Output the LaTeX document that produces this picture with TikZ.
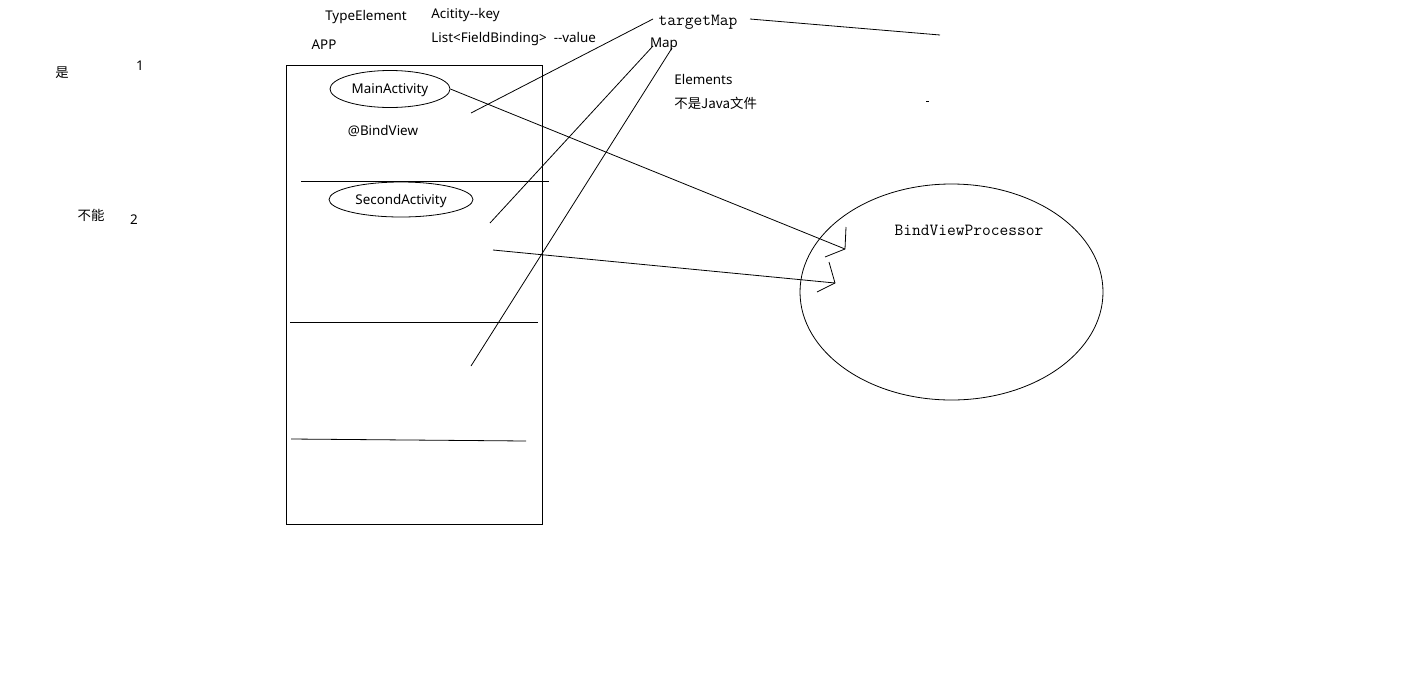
\documentclass[tikz,border=0pt]{standalone}
\usepackage{fontspec}
\setmainfont{Noto Sans}
\newfontfamily\cjk{Noto Sans CJK SC}
\usetikzlibrary{shapes}
\tikzstyle{txt} = [inner sep=0pt, font=\fontsize{13.4}{15}\selectfont]
\tikzstyle{mono} = [inner sep=0pt, font=\ttfamily\fontsize{17}{19}\selectfont]
\tikzstyle{activity} = [ellipse, draw, inner sep=0pt, text depth=0pt, font=\fontsize{13.4}{15}\selectfont]

\begin{document}
\begin{tikzpicture}[x=1pt, y=-1pt, line width=0.8pt]

        \useasboundingbox (0,0) rectangle (1405,678);

        \node[txt] at (62,73) (shi) {\cjk 是};
        \node[txt] at (140,66) (one) {1};
        \node[txt] at (91,215) (buneng) {\cjk 不能};
        \node[txt] at (134,220) (two) {2};

        \node[txt] at (366,17) (TypeElement) {TypeElement};
        \node[txt] at (324,45) (APP) {APP};
        \node[txt, anchor=west] at (431,15) (key) {Acitity-{}-key};
        \node[txt, anchor=west] at (431,39) (value) {List<FieldBinding>\ \ -{}-value};
        \node[mono] at (698,22) (targetMap) {targetMap};
        \node[txt] at (664,44) (Map) {Map};
        \node[txt, anchor=west] at (674,79) (Elements) {Elements};
        \node[txt, anchor=west] at (674,103) (notJava) {\cjk 不是Java文件};

        \node[rectangle, draw, minimum width=256pt, minimum height=459pt] at (414,294.5) (app) {};
        \node[activity, minimum width=120pt, minimum height=37pt] at (390,89) (MainActivity) {MainActivity};
        \node[txt] at (383,131) (BindView) {@BindView};
        \node[activity, minimum width=144pt, minimum height=35pt] at (401,199.5) (SecondActivity) {SecondActivity};

        \draw (301,181) -- (549,181);
        \draw (290,322) -- (538,322);
        \draw (291,439) -- (526,441);

        \node[ellipse, draw, minimum width=303pt, minimum height=216pt] at (951.5,292) (processor) {};
        \node[mono] at (969,230) (BindViewProcessor) {BindViewProcessor};

        \coordinate (tipA) at (845,249);
        \coordinate (tipB) at (835,283);
        \coordinate (startB) at (493,250);
        \coordinate (mapA) at (653,19);
        \coordinate (endA) at (471,113);
        \coordinate (mapB) at (653,46);
        \coordinate (endB) at (490,223);
        \coordinate (mapC) at (672,48);
        \coordinate (endC) at (471,366);
        \coordinate (tailStart) at (750,19);
        \coordinate (tailEnd) at (940,35);

        % arrows into the processor, heads drawn by hand
        \draw (MainActivity.east) -- (tipA);
        \draw (846,227) -- (tipA) -- (825,257);
        \draw (startB) -- (tipB);
        \draw (829,262) -- (tipB) -- (817,292);

        % lines from targetMap / Map
        \draw (endA) -- (mapA);
        \draw (mapB) -- (endB);
        \draw (mapC) -- (endC);
        \draw (tailStart) -- (tailEnd);
        \draw (926,101) -- (929,101);

    \end{tikzpicture}
\end{document}
